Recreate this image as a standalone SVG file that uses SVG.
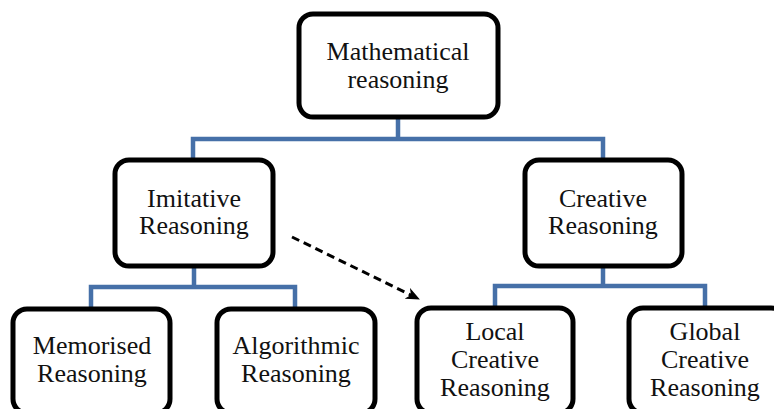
<svg xmlns="http://www.w3.org/2000/svg" width="774" height="409" viewBox="0 0 774 409">
<style>
.box{fill:#fff;stroke:#000;stroke-width:5}
.t{font-family:"Liberation Serif","Times New Roman",serif;font-size:26px;fill:#111;text-anchor:middle}
.c{fill:none;stroke:#4670A8;stroke-width:4.5}
.d{fill:none;stroke:#000;stroke-width:3;stroke-dasharray:8 5}
</style>
<defs>
<marker id="ah" viewBox="0 0 14 12" refX="13" refY="6" markerWidth="14" markerHeight="12" markerUnits="userSpaceOnUse" orient="auto">
<path d="M0,0 L14,6 L0,12 L4,6 Z" fill="#000"/>
</marker>
</defs>
<rect width="774" height="409" fill="#fff"/>
<g id="connectors">
<path class="c" d="M398,117 V139 M193,158 V139 H603 V158"/>
<path class="c" d="M194,266 V287 M91,307 V287 H295 V307"/>
<path class="c" d="M603,266 V286 M495,307 V286 H705 V307"/>
<path class="d" d="M292,237 L419,299" marker-end="url(#ah)"/>
</g>
<g id="mathematical">
<rect class="box" x="299" y="14" width="199" height="103" rx="14"/>
<text class="t" x="398" y="60">Mathematical</text>
<text class="t" x="398" y="88">reasoning</text>
</g>
<g id="imitative">
<rect class="box" x="115" y="160" width="158" height="106" rx="14"/>
<text class="t" x="194" y="207">Imitative</text>
<text class="t" x="194" y="234">Reasoning</text>
</g>
<g id="creative">
<rect class="box" x="525" y="160" width="157" height="106" rx="14"/>
<text class="t" x="603" y="207">Creative</text>
<text class="t" x="603" y="234">Reasoning</text>
</g>
<g id="memorised">
<rect class="box" x="13" y="309" width="157" height="104" rx="14"/>
<text class="t" x="92" y="354">Memorised</text>
<text class="t" x="92" y="382">Reasoning</text>
</g>
<g id="algorithmic">
<rect class="box" x="217" y="309" width="158" height="104" rx="14"/>
<text class="t" x="296" y="354">Algorithmic</text>
<text class="t" x="296" y="382">Reasoning</text>
</g>
<g id="local">
<rect class="box" x="417" y="308" width="156" height="105" rx="14"/>
<text class="t" x="495" y="340">Local</text>
<text class="t" x="495" y="368">Creative</text>
<text class="t" x="495" y="396">Reasoning</text>
</g>
<g id="global">
<rect class="box" x="629" y="308" width="156" height="105" rx="14"/>
<text class="t" x="705" y="340">Global</text>
<text class="t" x="705" y="368">Creative</text>
<text class="t" x="705" y="396">Reasoning</text>
</g>
</svg>
